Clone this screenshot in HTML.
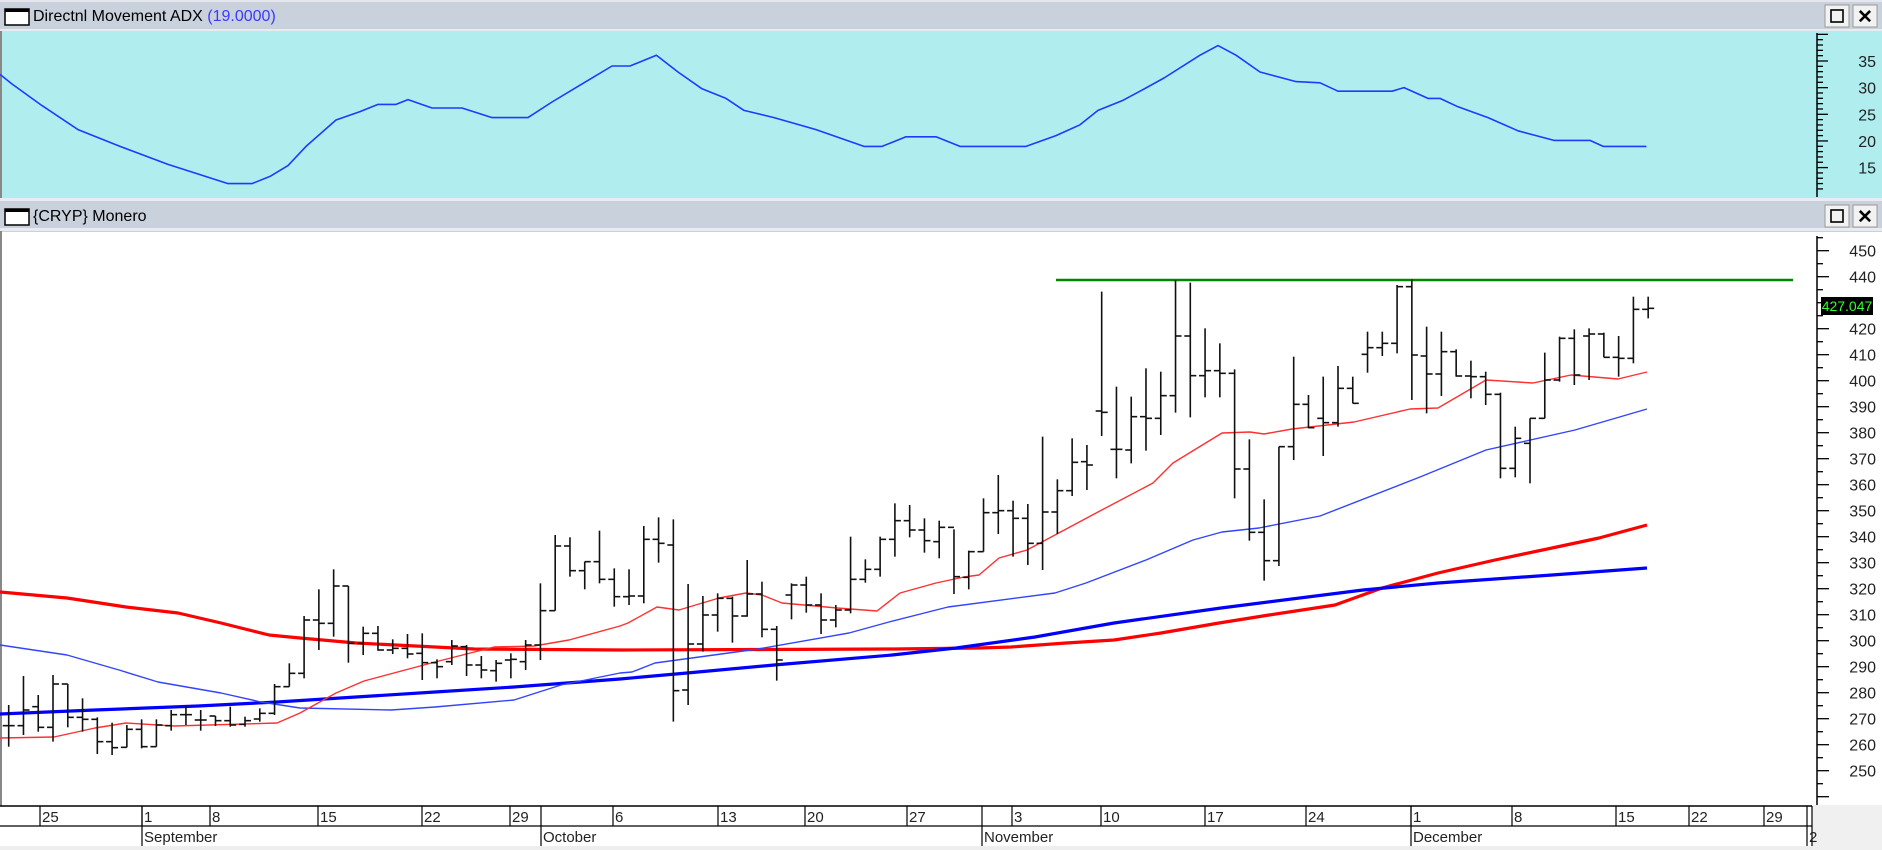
<!DOCTYPE html>
<html><head><meta charset="utf-8"><style>
body{margin:0;background:#fff;}
svg{display:block;font-family:"Liberation Sans",Arial,sans-serif;}
</style></head><body>
<svg id="s" width="1882" height="850" viewBox="0 0 1882 850" xmlns="http://www.w3.org/2000/svg">
<rect x="0" y="0" width="1882" height="850" fill="#ffffff"/>
<!-- title bar 1 -->
<rect x="0" y="0" width="1882" height="31" fill="#c9d1dc"/>
<rect x="0" y="0" width="1882" height="2" fill="#e4e8ee"/>
<rect x="0" y="29" width="1882" height="2" fill="#e8ecf0"/>
<rect x="5" y="9" width="24" height="16" fill="#fff" stroke="#000" stroke-width="1.5"/>
<rect x="5" y="9" width="24" height="3" fill="#000"/>
<text x="33" y="21" font-size="16" fill="#000">Directnl Movement ADX <tspan fill="#3a3aff">(19.0000)</tspan></text>
<rect x="1825" y="5" width="24" height="22" fill="#f2f2f2" stroke="#999"/>
<rect x="1831" y="10" width="12" height="12" fill="none" stroke="#000" stroke-width="1.6"/>
<rect x="1853" y="5" width="24" height="22" fill="#f2f2f2" stroke="#999"/>
<text x="1865" y="23" font-size="19" font-weight="bold" text-anchor="middle">✕</text>
<!-- ADX panel -->
<rect x="0" y="31" width="1882" height="167" fill="#afedee"/>
<rect x="0" y="31" width="2" height="167" fill="#888"/>
<!-- title bar 2 -->
<rect x="0" y="198" width="1882" height="34" fill="#c9d1dc"/>
<rect x="0" y="198" width="1882" height="3" fill="#e8ecf0"/>
<rect x="0" y="228" width="1882" height="3" fill="#e8ecf0"/>
<rect x="5" y="209" width="24" height="16" fill="#fff" stroke="#000" stroke-width="1.5"/>
<rect x="5" y="209" width="24" height="3" fill="#000"/>
<text x="33" y="221" font-size="16" fill="#000">{CRYP} Monero</text>
<rect x="1825" y="205" width="24" height="22" fill="#f2f2f2" stroke="#999"/>
<rect x="1831" y="210" width="12" height="12" fill="none" stroke="#000" stroke-width="1.6"/>
<rect x="1853" y="205" width="24" height="22" fill="#f2f2f2" stroke="#999"/>
<text x="1865" y="223" font-size="19" font-weight="bold" text-anchor="middle">✕</text>
<!-- main panel -->
<rect x="0" y="231" width="2" height="575" fill="#888"/>
<rect x="1812" y="805" width="70" height="45" fill="#f0f0f0"/>
<rect x="0" y="846" width="1812" height="4" fill="#eeeeee"/>
<g id="g"></g>
</svg>
<script>
var g=document.getElementById('g'),NS='http://www.w3.org/2000/svg',h='';
function L(x1,y1,x2,y2,c,w){h+='<line x1="'+x1+'" y1="'+y1+'" x2="'+x2+'" y2="'+y2+'" stroke="'+c+'" stroke-width="'+w+'"/>';}
function T(x,y,t,a,s){h+='<text x="'+x+'" y="'+y+'" font-size="'+(s||15)+'" text-anchor="'+(a||'start')+'" fill="#222">'+t+'</text>';}
function P(pts,c,w){h+='<polyline fill="none" stroke="'+c+'" stroke-width="'+w+'" stroke-linejoin="round" points="'+pts.map(function(p){return p[0].toFixed(1)+','+p[1].toFixed(1)}).join(' ')+'"/>';}
// ADX axis
L(1817,33,1817,197,'#000',1.5);
for(var v=11;v<=40;v++){var y=61+(35-v)*5.33;if(y<33||y>196)continue;L(1817,y,v%5==0?1828:1823,y,'#000',1.3);}
[35,30,25,20,15].forEach(function(v){T(1876,61+(35-v)*5.33+6,v,'end',16);});
// ADX line
var ad=[[0,62],[10,70],[35,88],[65,108],[100,122],[140,137],[190,153],[210,153],[225,147],[240,138],[255,122],[280,100],[300,93],[315,87],[330,87],[340,83],[360,90],[385,90],[410,98],[440,98],[460,85],[480,73],[495,64],[510,55],[525,55],[547,46],[565,60],[585,74],[605,82],[620,92],[645,98],[680,108],[700,115],[720,122],[735,122],[755,114],[780,114],[800,122],[855,122],[880,113],[900,104],[915,92],[935,84],[950,76],[970,65],[1000,46],[1015,38],[1030,46],[1050,60],[1080,68],[1100,69],[1115,76],[1160,76],[1170,73],[1190,82],[1200,82],[1215,89],[1240,98],[1265,109],[1295,117],[1325,117],[1336,122],[1372,122]];
P(ad.map(function(p){return [p[0]*1.2,p[1]*1.2];}),'#1a3cff',1.6);
// main axis
L(1817,236,1817,805,'#000',1.5);
function py(v){return 744.7-(v-260)*2.6;}
for(var v=235;v<=460;v+=5){var y=py(v);if(y<236||y>803)continue;L(1817,y,v%10==0?1829:1823,y,'#000',1.3);}
for(var v=250;v<=450;v+=10){if(v==430)continue;T(1876,py(v)+6,v,'end',16);}
// x axis
L(0,806,1812,806,'#000',1.5);L(0,826,1812,826,'#000',1.2);L(1812,806,1812,846,'#000',1.2);
[[40,'25'],[142,'1'],[210,'8'],[318,'15'],[422,'22'],[510,'29'],[613,'6'],[718,'13'],[805,'20'],[907,'27'],[1012,'3'],[1101,'10'],[1205,'17'],[1306,'24'],[1411,'1'],[1512,'8'],[1616,'15'],[1689,'22'],[1764,'29']].forEach(function(d){L(d[0],806,d[0],826,'#000',1.2);T(d[0]+2,822,d[1]);});
[[142,'September'],[541,'October'],[982,'November'],[1411,'December'],[1807,'2']].forEach(function(d){L(d[0],806,d[0],846,'#000',1.2);T(d[0]+2,842,d[1]);});
// MAs
function Z(a){return a;}
P([[0,592],[67,598],[126,607],[178,613],[221,623],[269,635],[300,638],[356,643],[435,647],[474,649],[620,650],[894,649],[979,648],[1011,647],[1066,643],[1114,640],[1161,633],[1219,623],[1269,615],[1335,605],[1382,588],[1438,573],[1495,560],[1552,548],[1599,538],[1647,525]],'#ff0000',3.2);
P([[0,714],[95,710],[198,706],[277,702],[356,697],[435,692],[514,687],[620,679],[687,673],[774,665],[892,655],[956,648],[1035,637],[1114,623],[1221,608],[1363,590],[1438,583],[1552,575],[1647,568]],'#0000ff',3.2);
P([[0,645],[67,655],[119,670],[158,682],[221,693],[261,702],[300,708],[391,710],[435,707],[514,700],[561,685],[620,673],[632,672],[655,663],[758,649],[849,633],[889,622],[948,607],[1055,593],[1086,583],[1146,560],[1193,540],[1222,532],[1259,528],[1320,516],[1420,477],[1486,450],[1575,430],[1647,409]],'#3344ff',1.4);
P([[0,738],[54,737],[95,728],[126,723],[174,726],[277,723],[300,713],[336,693],[364,681],[435,662],[494,647],[534,646],[569,640],[620,626],[628,623],[657,607],[679,610],[719,598],[746,593],[762,595],[782,603],[837,608],[877,611],[900,593],[936,583],[964,577],[979,575],[999,558],[1027,550],[1055,535],[1098,512],[1153,483],[1173,463],[1222,433],[1250,432],[1264,434],[1292,429],[1354,422],[1410,409],[1438,408],[1486,380],[1533,383],[1571,375],[1618,379],[1647,372]],'#ff3030',1.4);
// green resistance
L(1056,280,1793,280,'#008800',2.5);
// bars [high,low,open,close] in zoom coords
var b8=[[675,800,737,737],[588,765,737,690],[645,755,680,742],[585,785,742,612],[612,742,612,712],[655,755,712,718],[712,822,718,785],[728,825,785,803],[735,802,802,748],[718,805,748,800],[718,800,800,735],[690,752,737,704],[675,735,704,704],[690,752,720,720],[708,738,708,722],[680,740,722,735],[710,740,733,722],[685,725,717,700],[612,705,700,620],[550,620,620,580],[408,595,580,420],[328,510,420,430],[268,470,430,318],[318,548,318,490],[440,525,490,460],[438,512,460,510],[478,522,510,505],[462,535,505,522],[460,600,520,548],[538,595,548,560],[480,555,545,498],[495,588,500,555],[528,595,555,570],[540,605,572,550],[520,595,540,538],[480,570,545,495],[310,540,495,392],[165,392,392,198],[172,290,198,272],[245,328,272,245],[152,310,245,298],[265,380,298,350]];
var b9=[[718,825,800,798],[588,820,798,628],[562,698,628,640],[568,1175,645,1082],[762,1125,1080,942],[798,965,942,855],[790,905,855,805],[800,938,805,858],[690,860,858,792],[755,922,792,898],[888,1052,898,990],[760,868,795,765],[740,848,765,825],[790,912,825,870],[825,892,870,840],[620,850,840,748],[688,758,748,718],[620,740,718,628],[520,680,628,572],[525,622,572,600],[565,668,600,632],[572,685,635,592],[598,792,592,740],[662,778,742,665],[505,665,665,548],[435,612,548,542],[512,680,542,565],[522,705,565,640],[320,720,640,546],[448,612,546,482],[325,498,482,397]];
var b10=[[645,780,695,705],[185,618,543,547],[470,745,658,658],[500,700,660,560],[415,662,560,565],[425,615,565,497],[150,548,497,318],[158,562,318,437],[295,502,437,422],[340,502,422,430],[418,805,430,717],[628,932,717,907],[808,1052,907,992],[650,1008,992,650],[380,690,650,523],[495,595,523,593],[440,678,565,578],[408,590,578,475],[440,520,475,520],[305,428,373,353],[305,378,353,340],[165,370,340,170],[148,510,170,375],[290,550,378,432],[305,498,432,365],[358,440,365,438],[392,505,438,440],[425,525,440,493],[488,745,493,715],[590,742,715,625],[565,760,640,565],[368,565,565,450],[320,455,450,325],[298,465,325,435],[295,450,318,312],[308,382,312,382],[318,440,382,385],[200,400,385,238],[200,265,238,235]];
function bar(i,hi,lo,o,c){var x=8.7+i*14.77;L(x,hi,x,lo,'#111',1.6);L(x-6,o,x,o,'#111',1.6);L(x,c,x+6,c,'#111',1.6);}
b8.forEach(function(b,i){bar(i,480+b[0]/3,480+b[1]/3,480+b[2]/3,480+b[3]/3);});
b9.forEach(function(b,i){bar(42+i,330+b[0]/3,330+b[1]/3,330+b[2]/3,330+b[3]/3);});
b10.forEach(function(b,i){bar(73+i,230+b[0]/3,230+b[1]/3,230+b[2]/3,230+b[3]/3);});
// price label
h+='<rect x="1821" y="297" width="52" height="18" fill="#000"/>';
h+='<text x="1847" y="311" font-size="14" text-anchor="middle" fill="#33ff33">427.047</text>';
g.innerHTML=h;
</script>
</body></html>
